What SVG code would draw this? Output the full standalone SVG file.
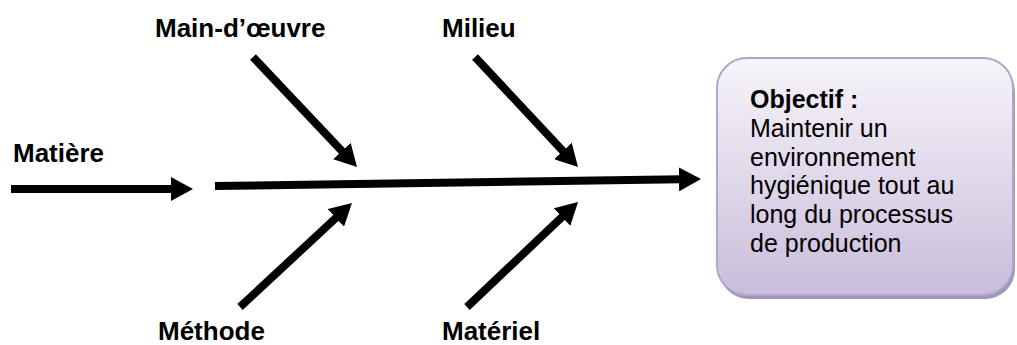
<svg xmlns="http://www.w3.org/2000/svg" width="1017" height="345" viewBox="0 0 1017 345">
<style>
.lbl{font-family:"Liberation Sans",Arial,sans-serif;font-weight:bold;font-size:26px;fill:#000}
.bx{font-family:"Liberation Sans",Arial,sans-serif;font-size:25px;fill:#000}
.arr{stroke:#000;stroke-width:8;fill:none;marker-end:url(#head)}
</style>
<defs>
<marker id="head" viewBox="0 0 22 24" refX="2" refY="12" markerWidth="22" markerHeight="24" markerUnits="userSpaceOnUse" orient="auto">
<path d="M0,0 L22,12 L0,24 z" fill="#000"/>
</marker>
<linearGradient id="boxg" x1="0" y1="0" x2="0" y2="1">
<stop offset="0" stop-color="#f7f4fa"/>
<stop offset="1" stop-color="#c9bddb"/>
</linearGradient>
</defs>
<g id="connectors">
<line class="arr" x1="11" y1="189" x2="173" y2="189"/>
<line class="arr" x1="215" y1="186" x2="681" y2="179.3"/>
<line class="arr" x1="253" y1="57" x2="343.3" y2="152.5"/>
<line class="arr" x1="475" y1="57" x2="564.3" y2="152.4"/>
<line class="arr" x1="240" y1="307" x2="337.3" y2="216.6"/>
<line class="arr" x1="467" y1="307" x2="563.5" y2="215.7"/>
</g>
<g id="main-oeuvre"><text class="lbl" x="155" y="37">Main-d’œuvre</text></g>
<g id="milieu"><text class="lbl" x="442" y="37">Milieu</text></g>
<g id="matiere"><text class="lbl" x="13" y="162">Matière</text></g>
<g id="methode"><text class="lbl" x="158" y="340">Méthode</text></g>
<g id="materiel"><text class="lbl" x="442" y="340">Matériel</text></g>
<g id="objectif">
<rect x="719" y="62" width="296" height="237" rx="30" fill="#9f99b3"/>
<rect x="717" y="58" width="296" height="237" rx="30" fill="url(#boxg)" stroke="#b3a3d3" stroke-width="2"/>
<text class="bx" x="750" y="108" font-weight="bold">Objectif :</text>
<text class="bx" x="750" y="136.8">Maintenir un</text>
<text class="bx" x="750" y="165.6">environnement</text>
<text class="bx" x="750" y="194.4">hygiénique tout au</text>
<text class="bx" x="750" y="223.2">long du processus</text>
<text class="bx" x="750" y="252">de production</text>
</g>
</svg>
